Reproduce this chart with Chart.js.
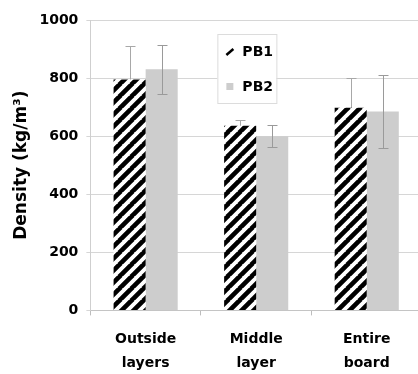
<!DOCTYPE html>
<html>
<head>
<meta charset="utf-8">
<script src="https://cdn.jsdelivr.net/npm/chart.js@4/dist/chart.umd.min.js"></script>
<style>
  html, body { margin: 0; padding: 0; background: #fff; overflow: hidden; }
  #wrap { width: 422px; height: 374px; }
</style>
</head>
<body>
<div id="wrap"><canvas id="c" width="422" height="374"></canvas></div>
<script>
// Board density by zone for two particle boards
const categories = [["Outside", "layers"], ["Middle", "layer"], ["Entire", "board"]];
const seriesNames = ["PB1", "PB2"];
const pb1Density = [795, 636, 698];
const pb2Density = [830, 600, 685];
const pb1StdDev = [115, 20, 102];
const pb2StdDev = [85, 38, 127];
const yTicks = [0, 200, 400, 600, 800, 1000];

const FONT = "'DejaVu Sans', 'Liberation Sans', Arial, sans-serif";
const GRAY_BAR = "#cdcdcd";
const GRID = "#d6d6d6";

// Diagonal black hatching for PB1
function makeHatch() {
  const p = 12;
  const c = document.createElement("canvas");
  c.width = p; c.height = p;
  const g = c.getContext("2d");
  g.fillStyle = "#fff";
  g.fillRect(0, 0, p, p);
  g.strokeStyle = "#000";
  g.lineWidth = 4.6;
  g.beginPath();
  for (let k = -1; k <= 1; k++) {
    g.moveTo(k * p - 1, p + 1);
    g.lineTo(k * p + p + 1, -1);
  }
  g.stroke();
  return g.createPattern(c, "repeat");
}
const hatch = makeHatch();

// Error bars at each bar's centre, from its value and deviation
function drawErrorBars(chart, di, color) {
  const ctx = chart.ctx;
  const y = chart.scales.y;
  const devs = [pb1StdDev, pb2StdDev][di];
  const ds = chart.data.datasets[di];
  ctx.save();
  ctx.lineWidth = 1;
  ctx.strokeStyle = color;
  chart.getDatasetMeta(di).data.forEach((bar, i) => {
    const v = ds.data[i], e = devs[i];
    const top = Math.round(y.getPixelForValue(v + e)) + 0.5;
    const bot = Math.round(y.getPixelForValue(v - e)) + 0.5;
    const x = Math.round(bar.x) + 0.5;
    ctx.beginPath();
    ctx.moveTo(x, top); ctx.lineTo(x, bot);
    ctx.moveTo(x - 5, top); ctx.lineTo(x + 5, top);
    ctx.moveTo(x - 5, bot); ctx.lineTo(x + 5, bot);
    ctx.stroke();
  });
  ctx.restore();
}
const errorBars = {
  id: "errorBars",
  // PB1 whiskers sit behind the hatched bars, PB2 whiskers over the grey bars
  beforeDatasetsDraw(chart) { drawErrorBars(chart, 0, "#a8a8a8"); },
  afterDatasetsDraw(chart) { drawErrorBars(chart, 1, "#9a9a9a"); }
};

// Boxed legend placed inside the plot area
const boxLegend = {
  id: "boxLegend",
  afterDraw(chart) {
    const ctx = chart.ctx;
    const a = chart.chartArea;
    const bx = a.left + 127, by = a.top + 14, bw = 59, bh = 69;
    ctx.save();
    ctx.fillStyle = "#fff";
    ctx.fillRect(bx, by, bw, bh);
    ctx.strokeStyle = "#dcdcdc";
    ctx.lineWidth = 1;
    ctx.strokeRect(bx + 0.5, by + 0.5, bw, bh);
    // PB1 marker: short hatch stroke
    ctx.strokeStyle = "#000";
    ctx.lineWidth = 2.5;
    ctx.beginPath();
    ctx.moveTo(bx + 9, by + 21);
    ctx.lineTo(bx + 16, by + 15);
    ctx.stroke();
    // PB2 marker: grey square
    ctx.fillStyle = GRAY_BAR;
    ctx.fillRect(bx + 9, by + 49, 7, 7);
    ctx.fillStyle = "#000";
    ctx.font = "bold 14px " + FONT;
    ctx.textBaseline = "middle";
    ctx.textAlign = "left";
    ctx.fillText(seriesNames[0], bx + 25, by + 18);
    ctx.fillText(seriesNames[1], bx + 25, by + 53);
    ctx.restore();
  }
};

new Chart(document.getElementById("c"), {
  type: "bar",
  data: {
    labels: categories,
    datasets: [
      { label: seriesNames[0], data: pb1Density, backgroundColor: hatch, borderWidth: 0 },
      { label: seriesNames[1], data: pb2Density, backgroundColor: GRAY_BAR, borderWidth: 0 }
    ]
  },
  options: {
    responsive: false,
    animation: false,
    devicePixelRatio: 1,
    layout: { padding: { top: 20, right: 0, bottom: -13, left: 11 } },
    datasets: { bar: { categoryPercentage: 0.58, barPercentage: 1.0 } },
    plugins: {
      legend: { display: false },
      tooltip: { enabled: false }
    },
    scales: {
      x: {
        grid: { display: true, drawOnChartArea: false, drawTicks: true, tickLength: 5, color: "#bdbdbd", offset: true },
        border: { display: true, color: "#c4c4c4" },
        ticks: {
          color: "#000",
          font: { family: FONT, size: 14, weight: "bold", lineHeight: 1.7 },
          padding: 12,
          maxRotation: 0
        }
      },
      y: {
        min: 0,
        max: 1000,
        afterBuildTicks(axis) { axis.ticks = yTicks.map(v => ({ value: v })); },
        grid: { color: GRID, tickLength: 4 },
        border: { display: true, color: "#cfcfcf" },
        ticks: {
          color: "#000",
          font: { family: FONT, size: 14, weight: "bold" },
          padding: 8,
          callback: v => String(v)
        },
        title: {
          display: true,
          text: "Density (kg/m³)",
          color: "#000",
          font: { family: FONT, size: 17, weight: "bold" },
          padding: { top: 0, bottom: 0 }
        }
      }
    }
  },
  plugins: [errorBars, boxLegend]
});
</script>
</body>
</html>
